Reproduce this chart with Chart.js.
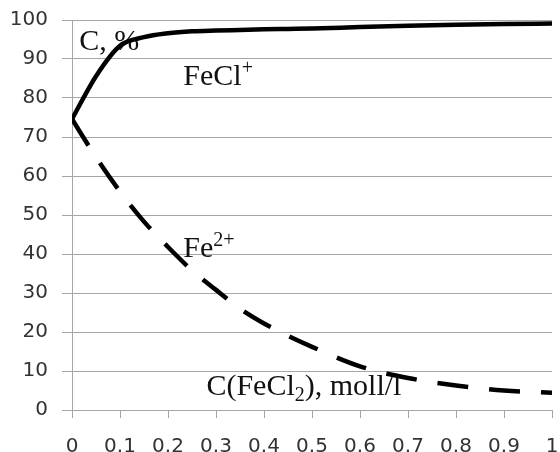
<!DOCTYPE html>
<html>
<head>
<meta charset="utf-8">
<script src="https://cdn.jsdelivr.net/npm/chart.js@4/dist/chart.umd.min.js"></script>
<style>
html,body{margin:0;padding:0;background:#fff;}
#wrap{width:560px;height:452px;position:relative;}
</style>
</head>
<body>
<div id="wrap"><canvas id="c" width="560" height="452"></canvas></div>
<script>
// ---- data ----
const concentrations = [0, 0.05, 0.1, 0.15, 0.2, 0.25, 0.3, 0.35, 0.4, 0.45, 0.5, 0.6, 0.7, 0.8, 0.9, 1.0];
const feClPlus = [74.6, 85.6, 93.4, 95.6, 96.6, 97.1, 97.3, 97.45, 97.6, 97.7, 97.8, 98.2, 98.55, 98.8, 99.0, 99.1];
const fe2Plus  = [74.6, 64.8, 56.0, 48.3, 41.8, 35.8, 30.8, 26.0, 22.2, 19.0, 16.2, 11.2, 8.2, 6.3, 5.0, 4.4];
const xTickLabels = ['0','0.1','0.2','0.3','0.4','0.5','0.6','0.7','0.8','0.9','1'];
const yTickLabels = ['0','10','20','30','40','50','60','70','80','90','100'];
const annotations = [
  {x: 0.015, y: 92.3, parts: [['C, %', 'n']]},
  {x: 0.232, y: 83.3, parts: [['FeCl', 'n'], ['+', 'sup']]},
  {x: 0.232, y: 39.3, parts: [['Fe', 'n'], ['2+', 'sup']]},
  {x: 0.28, y: 3.85, parts: [['C(FeCl', 'n'], ['2', 'sub'], ['), moll/l', 'n']]}
];

const toPts = (ys) => concentrations.map((x, i) => ({x: x, y: ys[i]}));

const textPlugin = {
  id: 'textPlugin',
  beforeDatasetsDraw(chart) {
    const ctx = chart.ctx;
    const xs = chart.scales.x, ys = chart.scales.y;
    ctx.save();
    ctx.fillStyle = '#111';
    ctx.textBaseline = 'alphabetic';
    ctx.textAlign = 'left';
    annotations.forEach(a => {
      let px = xs.getPixelForValue(a.x);
      const py = ys.getPixelForValue(a.y);
      a.parts.forEach(([t, kind]) => {
        let size = 30, dy = 0;
        if (kind === 'sup') { size = 20; dy = -11; }
        if (kind === 'sub') { size = 20; dy = 6; }
        ctx.font = size + 'px "Liberation Serif", "Times New Roman", serif';
        ctx.fillText(t, px, py + dy);
        px += ctx.measureText(t).width;
      });
    });
    ctx.restore();
  }
};

new Chart(document.getElementById('c'), {
  type: 'line',
  data: {
    datasets: [
      {
        label: 'FeCl+',
        data: toPts(feClPlus),
        borderColor: '#000',
        borderWidth: 4.5,
        pointRadius: 0,
        cubicInterpolationMode: 'monotone',
        fill: false
      },
      {
        label: 'Fe2+',
        data: toPts(fe2Plus),
        borderColor: '#000',
        borderWidth: 4.5,
        borderDash: [31, 21],
        pointRadius: 0,
        cubicInterpolationMode: 'monotone',
        fill: false
      }
    ]
  },
  options: {
    responsive: false,
    animation: false,
    events: [],
    layout: {padding: {top: 20, right: 8, left: 0, bottom: 0}},
    plugins: {legend: {display: false}, tooltip: {enabled: false}},
    scales: {
      x: {
        type: 'linear',
        min: 0, max: 1,
        ticks: {
          stepSize: 0.1,
          autoSkip: false,
          maxRotation: 0,
          padding: 17,
          color: '#333',
          font: {family: '"DejaVu Sans", sans-serif', size: 20},
          callback: (v, i) => xTickLabels[i]
        },
        grid: {display: true, drawOnChartArea: false, drawTicks: true, tickLength: 8, color: '#a6a6a6', lineWidth: 1},
        border: {display: true, color: '#a6a6a6', width: 1},
        afterFit: (s) => { s.height = 42; s.paddingLeft = 0; s.paddingRight = 0; }
      },
      y: {
        min: 0, max: 100,
        ticks: {
          stepSize: 10,
          padding: 14,
          color: '#333',
          font: {family: '"DejaVu Sans", sans-serif', size: 20},
          callback: (v, i) => yTickLabels[i]
        },
        grid: {display: true, drawTicks: true, tickLength: 10, color: '#a6a6a6', lineWidth: 1},
        border: {display: true, color: '#a6a6a6', width: 1},
        afterFit: (s) => { s.width = 72; s.paddingTop = 0; s.paddingBottom = 0; }
      }
    }
  },
  plugins: [textPlugin]
});
</script>
</body>
</html>
